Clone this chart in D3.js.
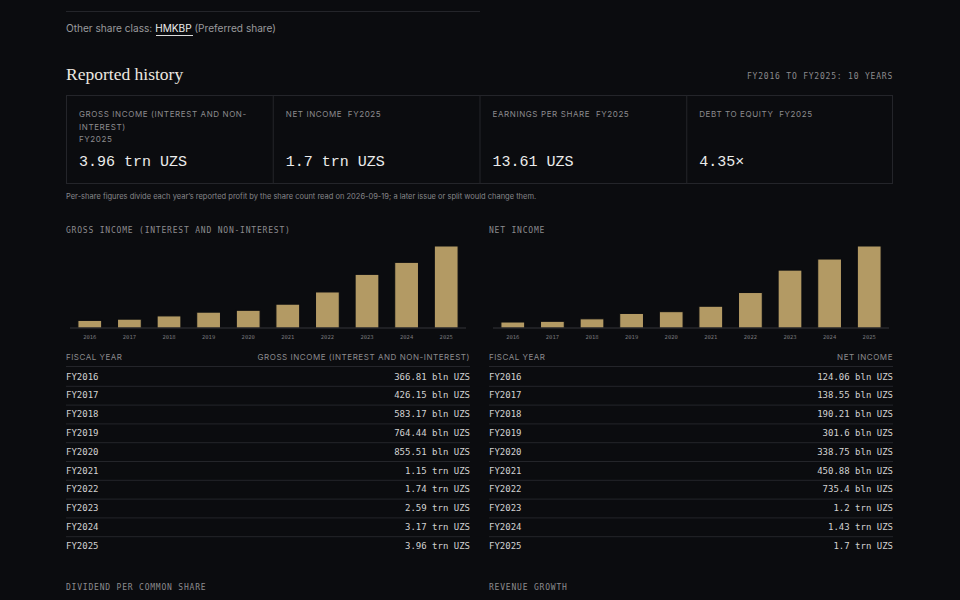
<!DOCTYPE html>
<html><head><meta charset="utf-8">
<script src="https://cdn.jsdelivr.net/npm/d3@7"></script>
<style>
html,body{margin:0;padding:0;background:#0b0c0f;}
svg{display:block;}
</style></head>
<body>
<svg id="c" width="960" height="600"></svg>
<script>
// ---- data ----
const fiscalYears = [2016,2017,2018,2019,2020,2021,2022,2023,2024,2025];
const grossIncome = [366.81,426.15,583.17,764.44,855.51,1150,1740,2590,3170,3960]; // bln UZS
const netIncome   = [124.06,138.55,190.21,301.6,338.75,450.88,735.4,1200,1430,1700];  // bln UZS
const kpiLabels = ["GROSS INCOME (INTEREST AND NON-INTEREST)","NET INCOME","EARNINGS PER SHARE","DEBT TO EQUITY"];
const kpiValues = ["3.96 trn UZS","1.7 trn UZS","13.61 UZS","4.35\u00d7"];
const kpiPeriod = "FY2025";

const BG="#0b0c0f", LINE="#24252a", GOLD="#b39a64", MUTED="#8b8b8e", TXT="#d2d2d2";
const MONO="'DejaVu Sans Mono', monospace", VMONO="'Liberation Mono', monospace", SANS="Inter, 'Noto Sans', sans-serif", SERIF="'Liberation Serif', serif";

const svg = d3.select("#c");
function fmt(v){ return v>=1000 ? (+(v/1000).toFixed(2))+" trn UZS" : (+v.toFixed(2))+" bln UZS"; }

// top rule and share class
svg.append("line").attr("x1",66).attr("x2",480).attr("y1",11.5).attr("y2",11.5).attr("stroke",LINE);
const sc = svg.append("text").attr("x",66).attr("y",32).attr("font-family",SANS).attr("font-size",10.1).attr("fill","#9a9a9d");
sc.append("tspan").text("Other share class: ");
sc.append("tspan").attr("fill","#ececec").text("HMKBP");
sc.append("tspan").text(" (Preferred share)");
svg.append("line").attr("x1",156).attr("x2",193).attr("y1",35.5).attr("y2",35.5).attr("stroke","#dcdcdc");

svg.append("text").attr("x",66).attr("y",80).attr("font-family",SERIF).attr("font-size",17.5).attr("fill","#ece8e0").text("Reported history");
svg.append("text").attr("x",893).attr("y",79).attr("text-anchor","end").attr("font-family",MONO).attr("font-size",8).attr("letter-spacing",0.8).attr("fill",MUTED).text("FY2016 TO FY2025: 10 YEARS");

// KPI cards
const cx = d3.scaleBand().domain(d3.range(4)).range([66,893]);
svg.append("rect").attr("x",66.5).attr("y",95.5).attr("width",826).attr("height",88).attr("fill","none").attr("stroke",LINE);
const cards = svg.selectAll("g.card").data(kpiLabels).join("g").attr("transform",(d,i)=>`translate(${cx(i)},0)`);
cards.filter((d,i)=>i>0).append("line").attr("x1",0.5).attr("x2",0.5).attr("y1",95.5).attr("y2",183.5).attr("stroke",LINE);
cards.each(function(d,i){
  const g=d3.select(this);
  const t=g.append("text").attr("font-family",SANS).attr("font-size",8).attr("letter-spacing",0.6).attr("fill",MUTED);
  if(i===0){
    t.append("tspan").attr("x",13).attr("y",117).text("GROSS INCOME (INTEREST AND NON-");
    t.append("tspan").attr("x",13).attr("y",129.5).text("INTEREST)");
    t.append("tspan").attr("x",13).attr("y",142).text(kpiPeriod);
  } else {
    t.append("tspan").attr("x",13).attr("y",117).text(d+"\u00a0\u00a0"+kpiPeriod);
  }
  g.append("text").attr("x",13).attr("y",166).attr("font-family",VMONO).attr("font-size",15).attr("fill","#ececec").text(kpiValues[i]);
});
svg.append("text").attr("x",66).attr("y",199).attr("font-family",SANS).attr("font-size",7.5).attr("fill","#86868a")
  .text("Per-share figures divide each year\u2019s reported profit by the share count read on 2026-09-19; a later issue or split would change them.");

// charts + tables
function panel(x0, title, vals, colTitle){
  const x1 = x0+404;
  svg.append("text").attr("x",x0).attr("y",233).attr("font-family",MONO).attr("font-size",8).attr("letter-spacing",0.8).attr("fill",MUTED).text(title);
  const xs = d3.scaleBand().domain(fiscalYears).range([x0+4,x0+400]).paddingInner(0.4).paddingOuter(0.2);
  const ys = d3.scaleLinear().domain([0,d3.max(vals)]).range([328,246]);
  svg.append("g").selectAll("rect").data(vals).join("rect")
    .attr("x",(d,i)=>xs(fiscalYears[i])).attr("width",xs.bandwidth())
    .attr("y",d=>ys(d)).attr("height",d=>ys(0)-ys(d))
    .attr("fill",GOLD).attr("stroke",BG).attr("stroke-width",1);
  svg.append("line").attr("x1",x0+4).attr("x2",x0+400).attr("y1",328).attr("y2",328).attr("stroke","#34353b").attr("stroke-width",1.2);
  const ax = svg.append("g").attr("transform","translate(0,328)").call(d3.axisBottom(xs).tickSize(0).tickPadding(7).tickFormat(d=>String(d)));
  ax.select(".domain").remove();
  ax.selectAll("text").attr("font-family",MONO).attr("font-size",5.5).attr("fill","#77777b");

  // table
  svg.append("text").attr("x",x0).attr("y",360).attr("font-family",SANS).attr("font-size",8).attr("letter-spacing",0.5).attr("fill",MUTED).text("FISCAL YEAR");
  svg.append("text").attr("x",x1).attr("y",360).attr("text-anchor","end").attr("font-family",SANS).attr("font-size",8).attr("letter-spacing",0.55).attr("fill",MUTED).text(colTitle);
  const ry = d3.scaleBand().domain(fiscalYears).range([367,555]);
  svg.append("line").attr("x1",x0).attr("x2",x1).attr("y1",366.5).attr("y2",366.5).attr("stroke",LINE);
  const rows = svg.append("g").selectAll("g").data(vals).join("g").attr("transform",(d,i)=>`translate(0,${ry(fiscalYears[i])})`);
  rows.filter((d,i)=>i>0).append("line").attr("x1",x0).attr("x2",x1).attr("y1",0.5).attr("y2",0.5).attr("stroke",LINE);
  rows.append("text").attr("x",x0).attr("y",12.5).attr("font-family",MONO).attr("font-size",9).attr("fill",TXT).text((d,i)=>"FY"+fiscalYears[i]);
  rows.append("text").attr("x",x1).attr("y",12.5).attr("text-anchor","end").attr("font-family",MONO).attr("font-size",9).attr("fill",TXT).text(d=>fmt(d));
}
panel(66,"GROSS INCOME (INTEREST AND NON-INTEREST)",grossIncome,"GROSS INCOME (INTEREST AND NON-INTEREST)");
panel(489,"NET INCOME",netIncome,"NET INCOME");

svg.append("text").attr("x",66).attr("y",590).attr("font-family",MONO).attr("font-size",8).attr("letter-spacing",0.8).attr("fill",MUTED).text("DIVIDEND PER COMMON SHARE");
svg.append("text").attr("x",489).attr("y",590).attr("font-family",MONO).attr("font-size",8).attr("letter-spacing",0.8).attr("fill",MUTED).text("REVENUE GROWTH");
</script>
</body></html>
